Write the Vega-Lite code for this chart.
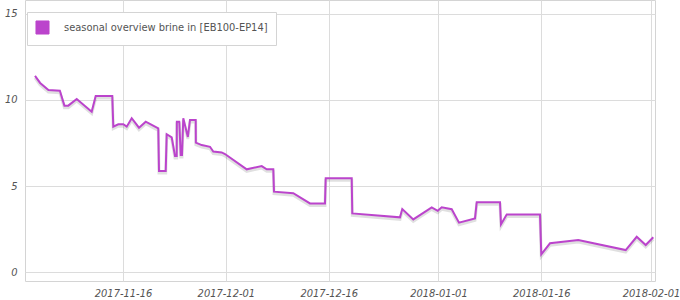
{
  "$schema": "https://vega.github.io/schema/vega-lite/v6.json",
  "width": 630,
  "height": 281,
  "autosize": {"type": "none"},
  "padding": {"left": 25, "top": 0, "right": 25, "bottom": 19},
  "background": "white",
  "config": {
    "view": {"stroke": "#d4d4d4", "strokeWidth": 1},
    "font": "DejaVu Sans"
  },
  "data": {
    "values": [
      {"t": "2017-11-03T04:00:00Z", "v": 11.40},
      {"t": "2017-11-03T22:00:00Z", "v": 10.99},
      {"t": "2017-11-05T03:00:00Z", "v": 10.58},
      {"t": "2017-11-06T19:00:00Z", "v": 10.54},
      {"t": "2017-11-07T11:00:00Z", "v": 9.67},
      {"t": "2017-11-08T00:30:00Z", "v": 9.67},
      {"t": "2017-11-09T06:00:00Z", "v": 10.06},
      {"t": "2017-11-11T10:30:00Z", "v": 9.32},
      {"t": "2017-11-12T00:30:00Z", "v": 10.23},
      {"t": "2017-11-14T10:30:00Z", "v": 10.23},
      {"t": "2017-11-14T14:00:00Z", "v": 8.45},
      {"t": "2017-11-15T07:30:00Z", "v": 8.59},
      {"t": "2017-11-16T01:00:00Z", "v": 8.59},
      {"t": "2017-11-16T13:00:00Z", "v": 8.45},
      {"t": "2017-11-17T06:30:00Z", "v": 8.94},
      {"t": "2017-11-18T08:00:00Z", "v": 8.39},
      {"t": "2017-11-19T07:30:00Z", "v": 8.74},
      {"t": "2017-11-21T03:30:00Z", "v": 8.35},
      {"t": "2017-11-21T06:00:00Z", "v": 5.87},
      {"t": "2017-11-22T05:30:00Z", "v": 5.87},
      {"t": "2017-11-22T09:00:00Z", "v": 8.01},
      {"t": "2017-11-23T02:30:00Z", "v": 7.83},
      {"t": "2017-11-23T14:00:00Z", "v": 6.74},
      {"t": "2017-11-23T20:00:00Z", "v": 6.74},
      {"t": "2017-11-23T20:30:00Z", "v": 8.74},
      {"t": "2017-11-24T05:00:00Z", "v": 8.74},
      {"t": "2017-11-24T10:00:00Z", "v": 6.80},
      {"t": "2017-11-24T14:30:00Z", "v": 6.80},
      {"t": "2017-11-24T19:00:00Z", "v": 8.94},
      {"t": "2017-11-25T11:00:00Z", "v": 7.85},
      {"t": "2017-11-25T18:30:00Z", "v": 8.84},
      {"t": "2017-11-26T14:30:00Z", "v": 8.84},
      {"t": "2017-11-26T15:00:00Z", "v": 7.52},
      {"t": "2017-11-27T11:30:00Z", "v": 7.38},
      {"t": "2017-11-28T16:30:00Z", "v": 7.28},
      {"t": "2017-11-29T04:00:00Z", "v": 7.00},
      {"t": "2017-11-30T09:30:00Z", "v": 6.95},
      {"t": "2017-11-30T21:00:00Z", "v": 6.86},
      {"t": "2017-12-04T01:00:00Z", "v": 5.97},
      {"t": "2017-12-06T05:30:00Z", "v": 6.16},
      {"t": "2017-12-06T23:00:00Z", "v": 5.97},
      {"t": "2017-12-07T22:00:00Z", "v": 5.97},
      {"t": "2017-12-08T00:30:00Z", "v": 4.67},
      {"t": "2017-12-10T20:00:00Z", "v": 4.58},
      {"t": "2017-12-13T06:30:00Z", "v": 3.99},
      {"t": "2017-12-15T11:00:00Z", "v": 3.99},
      {"t": "2017-12-15T13:30:00Z", "v": 5.45},
      {"t": "2017-12-19T08:30:00Z", "v": 5.45},
      {"t": "2017-12-19T10:30:00Z", "v": 3.41},
      {"t": "2017-12-26T09:30:00Z", "v": 3.18},
      {"t": "2017-12-26T17:30:00Z", "v": 3.66},
      {"t": "2017-12-28T08:00:00Z", "v": 3.06},
      {"t": "2017-12-31T00:30:00Z", "v": 3.76},
      {"t": "2017-12-31T21:30:00Z", "v": 3.56},
      {"t": "2018-01-01T11:30:00Z", "v": 3.76},
      {"t": "2018-01-02T22:30:00Z", "v": 3.65},
      {"t": "2018-01-04T00:00:00Z", "v": 2.87},
      {"t": "2018-01-06T08:00:00Z", "v": 3.12},
      {"t": "2018-01-06T14:00:00Z", "v": 4.05},
      {"t": "2018-01-09T23:30:00Z", "v": 4.05},
      {"t": "2018-01-10T03:00:00Z", "v": 2.77},
      {"t": "2018-01-10T23:00:00Z", "v": 3.35},
      {"t": "2018-01-15T19:30:00Z", "v": 3.35},
      {"t": "2018-01-16T00:00:00Z", "v": 1.03},
      {"t": "2018-01-17T06:30:00Z", "v": 1.67},
      {"t": "2018-01-21T09:30:00Z", "v": 1.86},
      {"t": "2018-01-28T07:30:00Z", "v": 1.28},
      {"t": "2018-01-29T22:00:00Z", "v": 2.05},
      {"t": "2018-01-31T05:30:00Z", "v": 1.57},
      {"t": "2018-02-01T08:00:00Z", "v": 2.02}
    ]
  },
  "encoding": {
    "x": {
      "field": "t",
      "type": "temporal",
      "title": null,
      "scale": {
        "type": "utc",
        "domain": [
          {"year": 2017, "month": 11, "date": 1, "hours": 17, "utc": true},
          {"year": 2018, "month": 2, "date": 1, "hours": 14, "utc": true}
        ],
        "nice": false
      },
      "axis": {
        "values": [
          {"year": 2017, "month": 11, "date": 16, "utc": true},
          {"year": 2017, "month": 12, "date": 1, "utc": true},
          {"year": 2017, "month": 12, "date": 16, "utc": true},
          {"year": 2018, "month": 1, "date": 1, "utc": true},
          {"year": 2018, "month": 1, "date": 16, "utc": true},
          {"year": 2018, "month": 2, "date": 1, "utc": true}
        ],
        "labelExpr": "utcFormat(datum.value, '%Y-%m-%d')",
        "domain": false,
        "ticks": false,
        "grid": true,
        "gridColor": "#dcdcdc",
        "labelFont": "DejaVu Sans Condensed",
        "labelFontStyle": "italic",
        "labelFontSize": 11,
        "labelColor": "#545454",
        "labelPadding": 6,
        "labelOverlap": false,
        "labelFlush": false
      }
    },
    "y": {
      "field": "v",
      "type": "quantitative",
      "title": null,
      "scale": {"domain": [-0.52, 15.81], "nice": false, "zero": false},
      "axis": {
        "values": [0, 5, 10, 15],
        "domain": false,
        "ticks": false,
        "grid": true,
        "gridColor": "#dcdcdc",
        "labelFont": "DejaVu Sans Condensed",
        "labelFontStyle": "italic",
        "labelFontSize": 11,
        "labelColor": "#545454",
        "labelPadding": 8
      }
    }
  },
  "layer": [
    {
      "mark": {"type": "line", "color": "rgba(0,0,0,0.12)", "strokeWidth": 3, "yOffset": 2, "clip": true}
    },
    {
      "mark": {"type": "line", "strokeWidth": 2, "clip": true},
      "encoding": {
        "color": {
          "datum": "seasonal overview brine in [EB100-EP14]",
          "type": "nominal",
          "scale": {"range": ["#bb44cc"]},
          "legend": {
            "title": null,
            "orient": "none",
            "legendX": 2,
            "legendY": 12,
            "fillColor": "white",
            "strokeColor": "#d4d4d4",
            "padding": 8,
            "symbolType": "square",
            "symbolSize": 170,
            "symbolFillColor": "#bb44cc",
            "symbolStrokeColor": "#cccccc",
            "symbolStrokeWidth": 1,
            "symbolOpacity": 1,
            "labelFont": "DejaVu Sans Condensed",
            "labelFontSize": 11,
            "labelColor": "#545454",
            "labelOffset": 14,
            "labelLimit": 400
          }
        }
      }
    }
  ]
}
